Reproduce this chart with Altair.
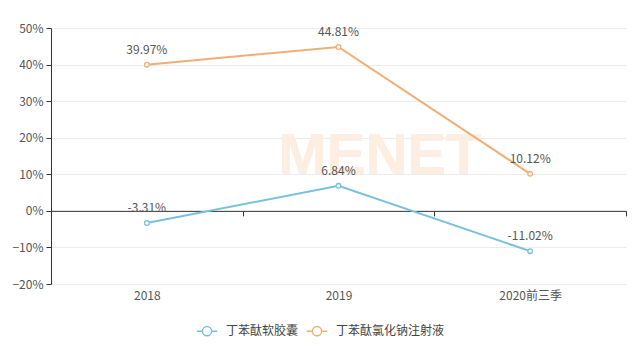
import altair as alt
import pandas as pd

categories = ["2018", "2019", "2020前三季"]
series_names = ["丁苯酞软胶囊", "丁苯酞氯化钠注射液"]
soft_capsule = [-3.31, 6.84, -11.02]
injection = [39.97, 44.81, 10.12]
colors = ["#7ac0de", "#efae75"]

rows = []
for name, vals in zip(series_names, [soft_capsule, injection]):
    for c, v in zip(categories, vals):
        rows.append({"cat": c, "series": name, "value": v / 100.0,
                     "label": f"{v:.2f}%"})
df = pd.DataFrame(rows)

FONT = "Noto Sans CJK SC"

xenc = alt.X("cat:N", sort=categories, bandPosition=0.5, title=None,
             scale=alt.Scale(type="band", paddingInner=0, paddingOuter=0),
             axis=alt.Axis(offset=-73.14, tickBand="extent", domainColor="#333",
                           tickColor="#333", tickSize=5, labelPadding=75,
                           labelColor="#555", labelFontSize=12, labelFont=FONT,
                           labelAngle=0, grid=False))
yenc = alt.Y("value:Q", title=None,
             scale=alt.Scale(domain=[-0.2, 0.5], nice=False),
             axis=alt.Axis(values=[-0.2, -0.1, 0, 0.1, 0.2, 0.3, 0.4, 0.5],
                           format=".0%", domainColor="#333", tickColor="#333",
                           tickSize=5, labelPadding=3, labelColor="#555",
                           labelFontSize=12, labelFont=FONT, gridColor="#ececec"))
color = alt.Color("series:N", sort=series_names, title=None,
                  scale=alt.Scale(domain=series_names, range=colors),
                  legend=alt.Legend(orient="none", direction="horizontal",
                                    legendX=145, legendY=292,
                                    symbolType="M-1,0L-0.45,0M0.45,0L1,0M0.45,0A0.45,0.45,0,1,1,-0.45,0A0.45,0.45,0,1,1,0.45,0",
                                    symbolSize=420, symbolStrokeWidth=1.5,
                                    symbolFillColor="white",
                                    labelFont=FONT, labelFontSize=12,
                                    labelColor="#444", columnPadding=4,
                                    labelOffset=8))

base = alt.Chart(df)

watermark = base.mark_text(text="MENET", font="Liberation Sans", fontSize=58,
                           fontWeight="bold", color="#fdeee2", opacity=0.9).encode(
    x=alt.value(329), y=alt.value(129))

line = base.mark_line(strokeWidth=2).encode(x=xenc, y=yenc, color=color)
pts = base.mark_point(filled=True, fill="white", size=22, strokeWidth=1.3,
                      opacity=1).encode(
    x=xenc, y=yenc, stroke=alt.Color("series:N", sort=series_names,
                                      scale=alt.Scale(domain=series_names, range=colors),
                                      legend=None))
text = base.mark_text(baseline="bottom", dy=-8, fontSize=12, font=FONT,
                      color="#555").encode(x=xenc, y=yenc, text="label:N")

chart = alt.layer(watermark, line, pts, text).properties(
    width=575, height=256,
    autosize=alt.AutoSizeParams(type="none"),
    padding={"left": 43, "top": 20, "right": 10, "bottom": 69},
).configure_view(stroke=None)

chart.save("out.html", embed_options={"renderer": "svg", "actions": False})
